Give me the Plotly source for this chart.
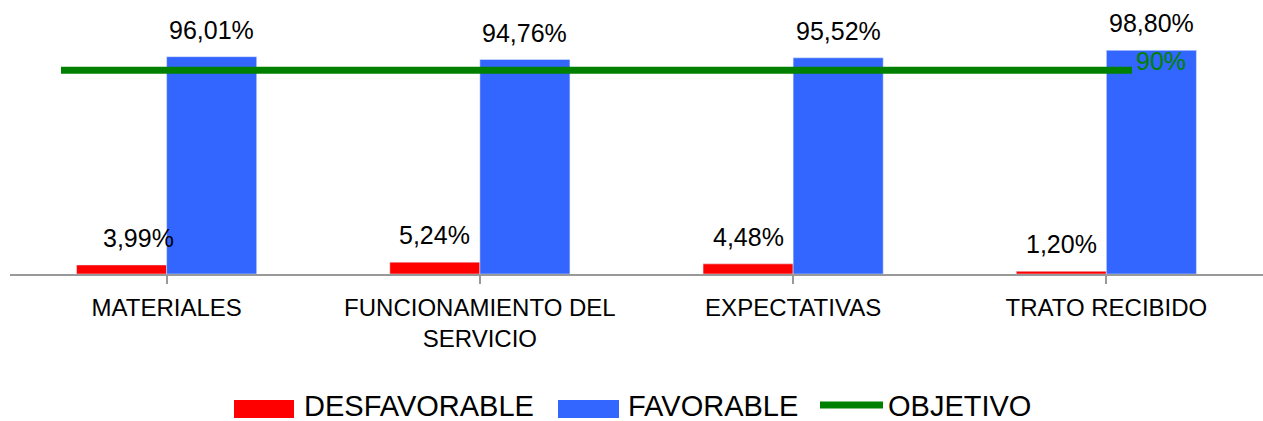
import plotly.graph_objects as go

# ---- data ----
categories = ["MATERIALES", "FUNCIONAMIENTO DEL<br>SERVICIO", "EXPECTATIVAS", "TRATO RECIBIDO"]
desfavorable = [3.99, 5.24, 4.48, 1.20]
favorable = [96.01, 94.76, 95.52, 98.80]
objetivo = [90, 90, 90, 90]
objetivo_label = "90%"
series_names = ["DESFAVORABLE", "FAVORABLE", "OBJETIVO"]

# ---- style ----
RED = "#FF0000"
BLUE = "#3366FF"
GREEN = "#008000"
FONT = "Liberation Sans, Arial, sans-serif"
BARGAP = 0.425
W, H = 1263, 421
ML, MR, MT, MB = 10, 0, 25, 147
red_label_xshift = [17, 0, 0, 0]


def fmt(v):
    return f"{v:.2f}".replace(".", ",") + "%"


idx = list(range(len(categories)))

fig = go.Figure()
fig.add_trace(go.Bar(x=idx, y=desfavorable, name=series_names[0], marker_color=RED,
                     showlegend=False))
fig.add_trace(go.Bar(x=idx, y=favorable, name=series_names[1], marker_color=BLUE,
                     showlegend=False))
fig.add_trace(go.Scatter(x=idx, y=objetivo, name=series_names[2], mode="lines",
                         line=dict(color=GREEN, width=7), xaxis="x2", showlegend=False))

half = (1 - BARGAP) / 4
annotations = []
for i, (d, f) in enumerate(zip(desfavorable, favorable)):
    annotations.append(dict(x=i - half, y=d, xref="x", yref="y", text=fmt(d), showarrow=False,
                            yanchor="bottom", yshift=11, xshift=red_label_xshift[i],
                            font=dict(size=25, color="black", family=FONT)))
    annotations.append(dict(x=i + half, y=f, xref="x", yref="y", text=fmt(f), showarrow=False,
                            yanchor="bottom", yshift=11,
                            font=dict(size=25, color="black", family=FONT)))
annotations.append(dict(x=idx[-1], y=objetivo[-1], xref="x2", yref="y", text=objetivo_label,
                        showarrow=False, xanchor="left", yanchor="bottom", xshift=2, yshift=-7,
                        font=dict(size=25, color=GREEN, family=FONT)))

# ---- custom legend ----
pw = W - ML - MR
ph = H - MT - MB


def px_x(p):
    return (p - ML) / pw


def px_y(p):
    return (H - MB - p) / ph


shapes = [
    dict(type="rect", xref="paper", yref="paper", x0=px_x(234), x1=px_x(294),
         y0=px_y(418), y1=px_y(400), fillcolor=RED, line=dict(width=0)),
    dict(type="rect", xref="paper", yref="paper", x0=px_x(558), x1=px_x(619),
         y0=px_y(418), y1=px_y(400), fillcolor=BLUE, line=dict(width=0)),
    dict(type="line", xref="paper", yref="paper", x0=px_x(820), x1=px_x(883),
         y0=px_y(405), y1=px_y(405), line=dict(color=GREEN, width=7)),
]
for name, xp in zip(series_names, [302, 626, 886]):
    annotations.append(dict(x=px_x(xp), y=px_y(406), xref="paper", yref="paper", text=name,
                            showarrow=False, xanchor="left", yanchor="middle",
                            font=dict(size=29, color="black", family=FONT)))

fig.update_layout(
    width=W, height=H, autosize=False,
    margin=dict(l=ML, r=MR, t=MT, b=MB),
    paper_bgcolor="white", plot_bgcolor="white",
    barmode="group", bargap=BARGAP, bargroupgap=0,
    font=dict(family=FONT, color="black"),
    xaxis=dict(tickmode="array", tickvals=idx, ticktext=categories, range=[-0.5, 3.5],
               showline=True, linecolor="#999999", linewidth=1.5,
               ticks="outside", ticklen=8, tickcolor="#999999", tickwidth=1.5,
               tickson="boundaries", showgrid=False, zeroline=False,
               tickfont=dict(size=24, color="black", family=FONT), ticklabelstandoff=3),
    xaxis2=dict(overlaying="x", range=[-(61 - ML) / 357, -(61 - ML) / 357 + pw / 357],
                visible=False),
    yaxis=dict(range=[0, 110], visible=False, showgrid=False, zeroline=False),
    annotations=annotations, shapes=shapes, showlegend=False,
)

fig.write_html("out.html", config={"displayModeBar": False},
               post_script="document.body.style.margin='0';document.body.style.overflow='hidden';")
